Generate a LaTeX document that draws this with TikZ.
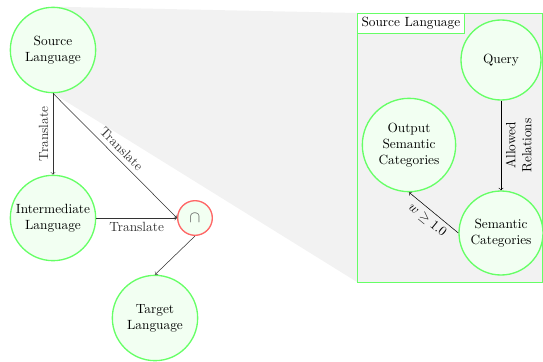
\documentclass[tikz,border=0pt]{standalone}
\usepackage{amsmath}
\usepackage{amssymb}
\usetikzlibrary{positioning,backgrounds,arrows}

\tikzset{
  lang/.style={circle, draw=green!60, fill=green!5, line width=1pt, align=center, minimum size=64pt, inner sep=1pt},
  capnode/.style={circle, draw=red!60, fill=green!5, line width=1pt, minimum size=26pt, inner sep=0pt, text=black!70},
  link/.style={->, black!80},
}

\begin{document}
\begin{tikzpicture}[x=0.75pt,y=-0.75pt]
					\useasboundingbox (0,0) rectangle (543,361);
					%Languages
					\node[lang] (src) at (53,50) {Source\\Language};
					\node[lang] (inter) at (53,218) {Intermediate\\Language};
					\node[capnode] (cap) at (195,218) {\large$\cap$};
					\node[lang] (tgt) at (155,318) {Target\\Language};
					
					%Zoom box
					\coordinate (boxnw) at (357,13);
					\coordinate (boxse) at (542,282);
					\begin{scope}[on background layer]
						\fill[gray!10] (src.north) -- (boxnw) -- (boxnw |- boxse) -- (src.south) -- cycle;
						\draw[green!60, fill=gray!10, line width=0.75pt] (boxnw) rectangle (boxse);
					\end{scope}
					\node[draw=green!60, fill=white, line width=0.75pt, anchor=north west, inner sep=3pt] (boxlbl) at (boxnw) {Source Language};
					\node[lang, minimum size=60pt] (query) at (501,60) {Query};
					\node[lang, minimum size=70pt] (outcat) at (409,145) {Output\\Semantic\\Categories};
					\node[lang, minimum size=63pt] (semcat) at (501,233) {Semantic\\Categories};
					
					%Arrows
					\draw[link] (src.south) -- node[midway, rotate=90, anchor=south] {Translate} (inter.north);
					\draw[link] (src.south) -- node[midway, sloped, above] {Translate} (cap.west);
					\draw[link] (inter.east) -- node[midway, below] {Translate} (cap.west);
					\draw[link] (cap.south) -- (tgt.north);
					\draw[->] (query.south) -- node[midway, rotate=90, anchor=north, align=center] {Allowed\\Relations} (semcat.north);
					\draw[->] (semcat.west) -- node[midway, sloped, below] {$w \geq 1.0$} (outcat.south);
				\end{tikzpicture}
\end{document}
